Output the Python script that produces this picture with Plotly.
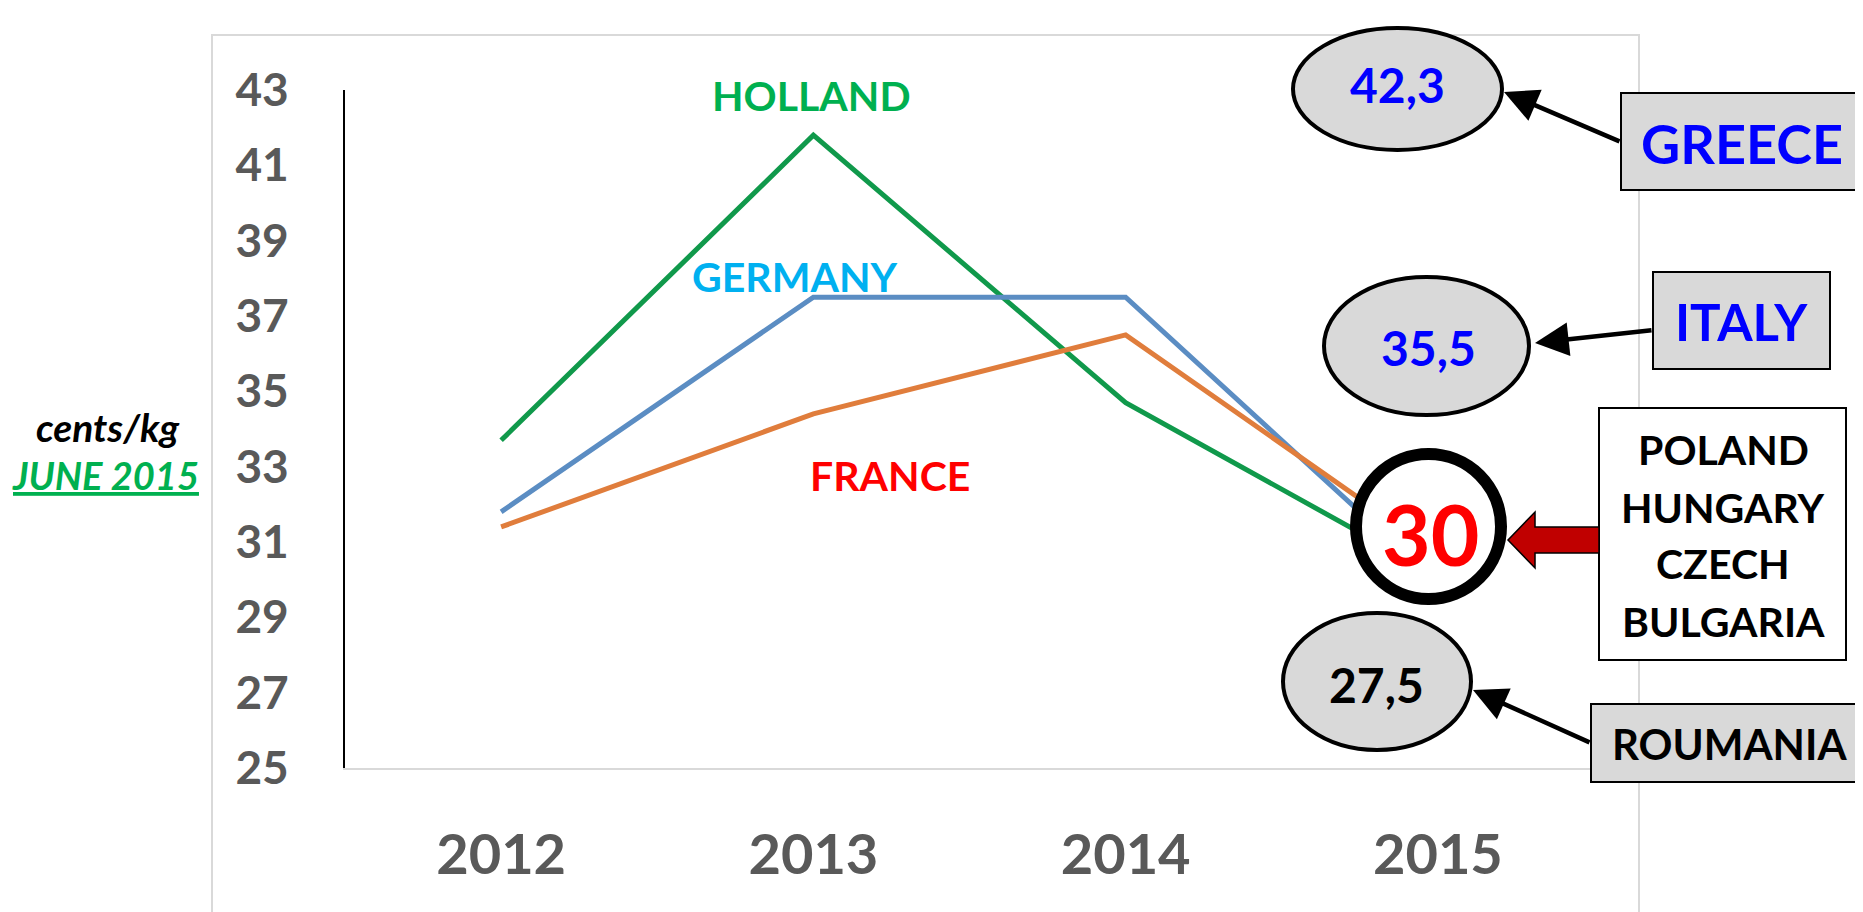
import plotly.graph_objects as go

W, H = 1863, 912
OFF = 8  # page body margin offset compensation

# ---------------- data ----------------
years = ["2012", "2013", "2014", "2015"]
holland = [33.7, 41.8, 34.7, 30.1]
germany = [31.8, 37.5, 37.5, 29.9]
france = [31.4, 34.4, 36.5, 30.7]
y_ticks = [25, 27, 29, 31, 33, 35, 37, 39, 41, 43]

series_names = ["HOLLAND", "GERMANY", "FRANCE"]
bubble_values = ["42,3", "35,5", "30", "27,5"]
country_greece = "GREECE"
country_italy = "ITALY"
country_group = ["POLAND", "HUNGARY", "CZECH", "BULGARIA"]
country_roumania = "ROUMANIA"
unit_label = "cents/kg"
date_label = "JUNE 2015"

FONT = "Lato"


def px(x):
    return (x - OFF) / W


def py(y):
    return 1 - (y - OFF) / H


fig = go.Figure()
line_colors = ["#10994b", "#5b8dc3", "#e07d3c"]
for name, vals, col in zip(series_names, [holland, germany, france], line_colors):
    fig.add_trace(go.Scatter(x=years, y=vals, mode="lines", name=name,
                             line=dict(color=col, width=5), showlegend=False,
                             hoverinfo="x+y+name"))

shapes = []
# chart frame
shapes.append(dict(type="rect", xref="paper", yref="paper", x0=px(212), x1=px(1639),
                   y0=py(940), y1=py(35), line=dict(color="#d9d9d9", width=2),
                   fillcolor="rgba(0,0,0,0)", layer="below"))


def ellipse(x0, x1, y0, y1, fill, lw):
    shapes.append(dict(type="circle", xref="paper", yref="paper",
                       x0=px(x0), x1=px(x1), y0=py(y1), y1=py(y0),
                       fillcolor=fill, line=dict(color="black", width=lw), layer="above"))


def box(x0, x1, y0, y1, fill):
    shapes.append(dict(type="rect", xref="paper", yref="paper",
                       x0=px(x0), x1=px(x1), y0=py(y1), y1=py(y0),
                       fillcolor=fill, line=dict(color="black", width=2), layer="above"))


ellipse(1293, 1502, 28, 150, "#d9d9d9", 4)
ellipse(1324, 1529, 277, 415, "#d9d9d9", 4)
ellipse(1356, 1501, 454, 599, "white", 12)
ellipse(1283, 1471, 613, 750, "#d9d9d9", 4)

box(1621, 1880, 93, 190, "#d9d9d9")
box(1653, 1830, 272, 369, "#d9d9d9")
box(1599, 1846, 408, 660, "white")
box(1591, 1880, 704, 782, "#d9d9d9")

# red block arrow
pts = [(1508, 540), (1535, 512), (1535, 527), (1599, 527), (1599, 553), (1535, 553), (1535, 568)]
path = "M " + " L ".join(f"{px(a):.5f},{py(b):.5f}" for a, b in pts) + " Z"
shapes.append(dict(type="path", xref="paper", yref="paper", path=path,
                   fillcolor="#c00000", line=dict(color="black", width=1.5), layer="above"))

ann = []


def text(t, x, y, size, color, italic=False, underline=False):
    f = dict(family=FONT, size=size, color=color, weight="bold")
    if italic:
        f["style"] = "italic"
    if underline:
        f["lineposition"] = "under"
    ann.append(dict(text=t, xref="paper", yref="paper", x=px(x), y=py(y),
                    xanchor="center", yanchor="middle", showarrow=False, font=f))


def arrow(tx, ty, fx, fy):
    ann.append(dict(text="", xref="paper", yref="paper", x=px(tx), y=py(ty),
                    ax=fx - tx, ay=fy - ty, axref="pixel", ayref="pixel",
                    showarrow=True, arrowhead=2, arrowsize=1.5, arrowwidth=4.5,
                    arrowcolor="black", standoff=0, startstandoff=0))


# series labels
text(series_names[0], 811, 95, 41, "#00b050")
text(series_names[1], 795, 276, 41, "#00b0f0")
text(series_names[2], 890, 475, 41, "#ff0000")

# bubbles
text(bubble_values[0], 1397, 84, 48, "#0000ff")
text(bubble_values[1], 1428, 348, 48, "#0000ff")
text(bubble_values[2], 1430, 533, 84, "#ff0000")
text(bubble_values[3], 1376, 684, 48, "black")

# countries
text(country_greece, 1742, 143, 54, "#0000ff")
text(country_italy, 1741, 321, 51, "#0000ff")
for name, yy in zip(country_group, [449, 507, 563, 621]):
    text(name, 1723, yy, 41, "black")
text(country_roumania, 1729, 744, 42, "black")

arrow(1504, 92, 1621, 142)
arrow(1535, 343, 1653, 330)
arrow(1473, 690, 1591, 743)

# left side labels
text(unit_label, 107, 427, 39, "black", italic=True)
text(date_label, 105, 475, 38, "#00b050", italic=True, underline=True)

fig.update_layout(
    width=W, height=H,
    margin=dict(l=0, r=0, t=0, b=0, pad=0, autoexpand=False),
    paper_bgcolor="white", plot_bgcolor="white",
    shapes=shapes, annotations=ann,
    xaxis=dict(type="category", range=[-0.5, 3.5], domain=[px(345), px(1594)],
               showline=True, linecolor="#d9d9d9", linewidth=2, showgrid=False,
               zeroline=False, ticks="", ticklabelstandoff=37, automargin=False,
               tickfont=dict(family=FONT, size=56, color="#595959", weight="bold")),
    yaxis=dict(range=[25, 43], domain=[py(768), py(90)], tickvals=y_ticks,
               showline=True, linecolor="black", linewidth=2, showgrid=False,
               zeroline=False, ticks="", ticklabelstandoff=45, automargin=False,
               tickfont=dict(family=FONT, size=46, color="#595959", weight="bold")),
)

fig.write_html("out.html")
